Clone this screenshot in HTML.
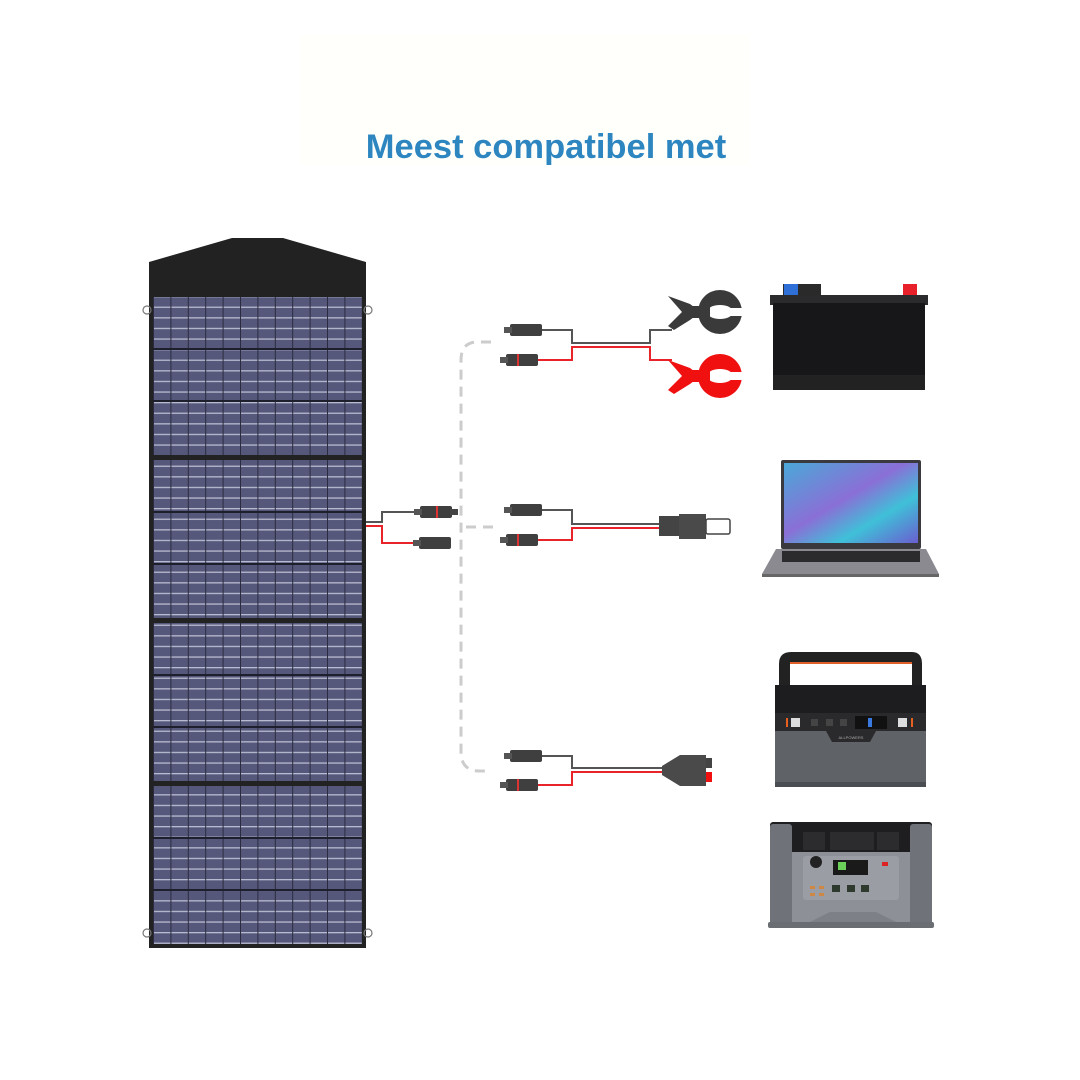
<!DOCTYPE html>
<html><head><meta charset="utf-8"><style>
html,body{margin:0;padding:0;background:#fff;width:1080px;height:1080px;overflow:hidden}
svg{display:block}
</style></head><body>
<svg width="1080" height="1080" viewBox="0 0 1080 1080" xmlns="http://www.w3.org/2000/svg">
<defs>
<pattern id="cells" x="153" y="296" width="17.4" height="10.6" patternUnits="userSpaceOnUse">
<rect width="17.4" height="10.6" fill="#56587b"/>
<rect y="0" width="17.4" height="1.3" fill="#b9bbd0"/>
<rect x="0" width="1" height="10.6" fill="#2a2b40"/>
</pattern>
<linearGradient id="scr" x1="0" y1="0" x2="1" y2="1">
<stop offset="0" stop-color="#4aa8d8"/><stop offset="0.45" stop-color="#8a6fd6"/><stop offset="0.7" stop-color="#3fc0d8"/><stop offset="1" stop-color="#6a5ed0"/>
</linearGradient>
<g id="conn"><rect x="0" y="-6" width="32" height="12" rx="2" fill="#3f3f3f"/><rect x="-6" y="-3" width="8" height="6" fill="#555"/></g>
<g id="clamp">
<path d="M0 -16 L22 -8 L30 -2 L30 2 L22 8 L6 18 L0 14 L14 0 Z"/>
<circle cx="52" cy="0" r="22"/>
<ellipse cx="52" cy="0" rx="13" ry="7" fill="#fff"/>
<rect x="55" y="-4" width="22" height="8" fill="#fff"/>
<rect x="24" y="-6" width="18" height="12"/>
</g>
</defs>
<rect width="1080" height="1080" fill="#fff"/>
<rect x="300" y="35" width="450" height="130" fill="#fffffb"/>
<text x="546" y="158" text-anchor="middle" font-family="Liberation Sans, sans-serif" font-weight="bold" font-size="34.5" fill="#2e86c1">Meest compatibel met</text>

<!-- solar panel -->
<path d="M149 262 L232 238 L283 238 L366 262 L366 948 L149 948 Z" fill="#222"/>
<circle cx="147" cy="310" r="4" fill="none" stroke="#777" stroke-width="1.2"/>
<circle cx="368" cy="310" r="4" fill="none" stroke="#777" stroke-width="1.2"/>
<circle cx="147" cy="933" r="4" fill="none" stroke="#777" stroke-width="1.2"/>
<circle cx="368" cy="933" r="4" fill="none" stroke="#777" stroke-width="1.2"/>
<g fill="url(#cells)">
<rect x="153" y="297" width="209" height="158"/>
<rect x="153" y="460" width="209" height="158"/>
<rect x="153" y="623" width="209" height="158"/>
<rect x="153" y="786" width="209" height="158"/>
</g>
<g fill="#1e1f2c">
<rect x="153" y="348" width="209" height="2"/><rect x="153" y="400" width="209" height="2"/>
<rect x="153" y="511" width="209" height="2"/><rect x="153" y="563" width="209" height="2"/>
<rect x="153" y="674" width="209" height="2"/><rect x="153" y="726" width="209" height="2"/>
<rect x="153" y="837" width="209" height="2"/><rect x="153" y="889" width="209" height="2"/>
</g>

<!-- main split cable -->
<g fill="none" stroke-width="2">
<path d="M366 522 L382 522 L382 512 L420 512" stroke="#555"/>
<path d="M366 526 L382 526 L382 543 L420 543" stroke="#e8232a"/>
</g>
<use href="#conn" x="420" y="512"/><rect x="436" y="506" width="2" height="12" fill="#d33"/><rect x="450" y="509" width="8" height="6" fill="#444"/>
<use href="#conn" x="419" y="543"/>

<!-- dashed guide -->
<g fill="none" stroke="#ccc" stroke-width="3" stroke-dasharray="10 7">
<path d="M491 342 L478 342 Q461 342 461 360 L461 752 Q461 771 480 771 L488 771"/>
<path d="M466 527 L493 527"/>
</g>

<!-- branch 1 clamps -->
<g fill="none" stroke-width="2">
<path d="M535 330 L572 330 L572 343 L650 343 L650 330 L672 330" stroke="#555"/>
<path d="M535 360 L572 360 L572 347 L650 347 L650 360 L672 360" stroke="#e8232a"/>
</g>
<use href="#conn" x="510" y="330"/><use href="#conn" x="506" y="360"/><rect x="517" y="354" width="2" height="12" fill="#d33"/>
<use href="#clamp" x="668" y="312" fill="#3a3a3a"/>
<use href="#clamp" x="668" y="376" fill="#f01010"/>

<!-- branch 2 DC -->
<g fill="none" stroke-width="2">
<path d="M535 510 L572 510 L572 524 L660 524" stroke="#555"/>
<path d="M535 540 L572 540 L572 528 L660 528" stroke="#e8232a"/>
</g>
<use href="#conn" x="510" y="510"/><use href="#conn" x="506" y="540"/><rect x="517" y="534" width="2" height="12" fill="#d33"/>
<rect x="659" y="516" width="20" height="20" fill="#444"/>
<rect x="679" y="514" width="27" height="25" fill="#4a4a4a"/>
<rect x="706" y="519" width="24" height="15" rx="2" fill="#fff" stroke="#444" stroke-width="1.5"/>

<!-- branch 3 anderson -->
<g fill="none" stroke-width="2">
<path d="M535 756 L572 756 L572 768 L662 768" stroke="#555"/>
<path d="M535 785 L572 785 L572 772 L662 772" stroke="#e8232a"/>
</g>
<use href="#conn" x="510" y="756"/><use href="#conn" x="506" y="785"/><rect x="517" y="779" width="2" height="12" fill="#d33"/>
<path d="M662 766 L680 755 L706 755 L706 786 L680 786 L662 775 Z" fill="#4a4a4a"/>
<rect x="706" y="758" width="6" height="10" fill="#444"/><rect x="706" y="772" width="6" height="10" fill="#f01010"/>

<!-- battery -->
<rect x="783" y="284" width="38" height="14" fill="#2a2a2a"/>
<rect x="784" y="284" width="14" height="12" fill="#2f6fd8"/>
<rect x="903" y="284" width="14" height="12" fill="#e8202a"/>
<rect x="770" y="295" width="158" height="10" fill="#2b2b2d"/>
<rect x="773" y="303" width="152" height="87" fill="#17171a"/>
<rect x="773" y="375" width="152" height="15" fill="#222"/>

<!-- laptop -->
<rect x="781" y="460" width="140" height="89" rx="2" fill="#3a3a3e"/>
<rect x="784" y="463" width="134" height="80" fill="url(#scr)"/>
<path d="M776 549 L926 549 L939 574 L762 574 Z" fill="#8a8a90"/>
<rect x="782" y="551" width="138" height="11" fill="#2b2b2e"/>
<rect x="762" y="574" width="177" height="3" fill="#666"/>

<!-- power station 1 -->
<path d="M779 664 Q779 652 791 652 L912 652 Q922 652 922 664 L922 690 L912 690 L912 662 L790 662 L790 690 L779 690 Z" fill="#222"/>
<rect x="790" y="662" width="122" height="2" fill="#e0602a"/>
<rect x="775" y="685" width="151" height="28" fill="#1d1d1f"/>
<rect x="775" y="713" width="151" height="18" fill="#2a2a2c"/>
<rect x="791" y="718" width="9" height="9" fill="#ddd"/><rect x="898" y="718" width="9" height="9" fill="#ddd"/>
<rect x="786" y="718" width="2" height="9" fill="#e86020"/><rect x="911" y="718" width="2" height="9" fill="#e86020"/>
<rect x="811" y="719" width="7" height="7" fill="#444"/><rect x="826" y="719" width="7" height="7" fill="#444"/><rect x="840" y="719" width="7" height="7" fill="#444"/>
<rect x="855" y="716" width="32" height="13" fill="#111"/><rect x="868" y="718" width="4" height="9" fill="#3a7ae0"/>
<rect x="775" y="731" width="151" height="53" fill="#5f6368"/>
<path d="M826 731 L876 731 L870 742 L832 742 Z" fill="#2a2a2c"/>
<text x="851" y="739" text-anchor="middle" font-family="Liberation Sans, sans-serif" font-size="4" fill="#aaa">ALLPOWERS</text>
<rect x="775" y="782" width="151" height="5" fill="#4a4d52"/>

<!-- power station 2 -->
<rect x="770" y="822" width="162" height="30" rx="3" fill="#1e1e20"/>
<rect x="771" y="852" width="160" height="72" fill="#8d9096"/>
<rect x="770" y="824" width="22" height="102" rx="3" fill="#6f7278"/>
<rect x="910" y="824" width="22" height="102" rx="3" fill="#6f7278"/>
<rect x="803" y="832" width="22" height="18" fill="#2c2c2e"/><rect x="830" y="832" width="22" height="18" fill="#2c2c2e"/>
<rect x="852" y="832" width="22" height="18" fill="#2c2c2e"/><rect x="877" y="832" width="22" height="18" fill="#2c2c2e"/>
<rect x="803" y="856" width="96" height="44" rx="3" fill="#9a9da3"/>
<circle cx="816" cy="862" r="6" fill="#222"/>
<rect x="833" y="860" width="35" height="15" fill="#1a1a1a"/><rect x="838" y="862" width="8" height="8" fill="#6ad05a"/>
<rect x="832" y="885" width="8" height="7" fill="#2e3a2e"/><rect x="847" y="885" width="8" height="7" fill="#2e3a2e"/><rect x="861" y="885" width="8" height="7" fill="#2e3a2e"/>
<rect x="810" y="886" width="5" height="3" fill="#c84"/><rect x="819" y="886" width="5" height="3" fill="#c84"/>
<rect x="810" y="893" width="5" height="3" fill="#c84"/><rect x="819" y="893" width="5" height="3" fill="#c84"/>
<rect x="882" y="862" width="6" height="4" fill="#d22"/>
<path d="M806 924 L830 912 L876 912 L900 924 Z" fill="#7d8086"/>
<rect x="768" y="922" width="166" height="6" rx="2" fill="#6a6d72"/>
</svg>
</body></html>
